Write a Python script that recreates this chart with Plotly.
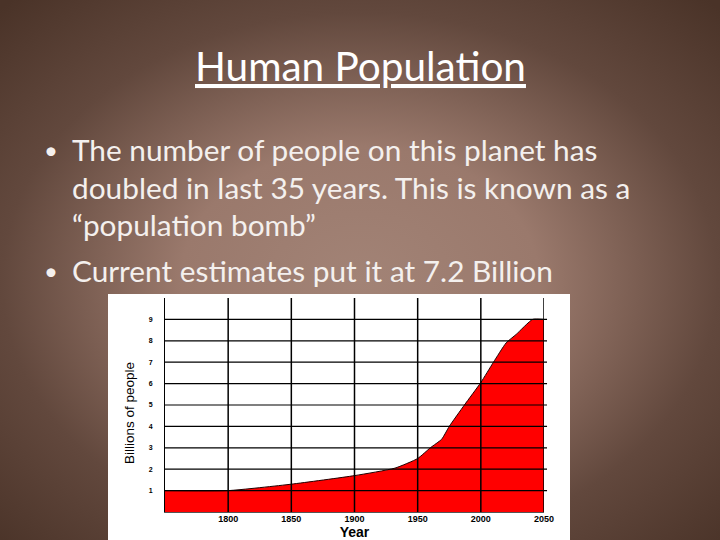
import base64
import plotly.graph_objects as go

# ---- data ----
years = [1750, 1800, 1850, 1900, 1932, 1950, 1960, 1969, 1975, 1987, 2000, 2010, 2020, 2028, 2041, 2050]
population_billions = [1.0, 1.0, 1.3, 1.7, 2.05, 2.5, 3.0, 3.4, 4.0, 5.0, 6.05, 7.0, 7.9, 8.3, 9.0, 9.0]
x_ticks = [1800, 1850, 1900, 1950, 2000, 2050]
y_ticks = [1, 2, 3, 4, 5, 6, 7, 8, 9]

slide_title = "Human Population"
bullet_lines = [
    ("•", "The number of people on this planet has"),
    ("", "doubled in last 35 years. This is known as a"),
    ("", "“population bomb”"),
    ("•", "Current estimates put it at 7.2 Billion"),
]
y_title = "Billions of people"
x_title = "Year"

W, H = 720, 540
L, R, T, B = 165, 544, 298, 512  # plot area in pixels


def px(x):
    return (x - L) / (R - L)


def py(y):
    return (B - y) / (B - T)


svg = f"""<svg xmlns='http://www.w3.org/2000/svg' width='{W}' height='{H}' viewBox='0 0 {W} {H}' preserveAspectRatio='none'>
<defs><radialGradient id='g' cx='50%' cy='52%' r='71%'>
<stop offset='0' stop-color='#a28376'/>
<stop offset='0.35' stop-color='#9a796c'/>
<stop offset='0.7' stop-color='#62483d'/>
<stop offset='1' stop-color='#4a3328'/>
</radialGradient></defs>
<rect x='0' y='0' width='{W}' height='{H}' fill='url(#g)'/></svg>"""
bg_uri = "data:image/svg+xml;base64," + base64.b64encode(svg.encode()).decode()

fig = go.Figure()
fig.add_trace(go.Scatter(
    x=years, y=population_billions, mode="lines",
    line=dict(color="#200000", width=1, shape="spline", smoothing=0.5),
    fill="tozeroy", fillcolor="#ff0000",
    hoverinfo="skip", showlegend=False,
))

shapes = [
    dict(type="rect", xref="paper", yref="paper", x0=px(108), x1=px(570), y0=py(540), y1=py(294),
         fillcolor="white", line=dict(width=0), layer="below"),
]
for xv in x_ticks:
    shapes.append(dict(type="line", xref="x", yref="paper", x0=xv, x1=xv, y0=0, y1=1,
                       line=dict(color="black", width=1.5), layer="above"))
for yv in y_ticks:
    shapes.append(dict(type="line", xref="paper", yref="y", x0=0, x1=1.008, y0=yv, y1=yv,
                       line=dict(color="black", width=1.2), layer="above"))

text_font = "Lato, Liberation Sans, sans-serif"
annotations = [
    dict(text=f"<u>{slide_title}</u>", x=px(360), y=py(66), xref="paper", yref="paper",
         showarrow=False, xanchor="center", yanchor="middle",
         font=dict(family=text_font, size=40.5, color="white")),
    dict(text=y_title, x=px(129), y=py(413), xref="paper", yref="paper", textangle=-90,
         showarrow=False, xanchor="center", yanchor="middle",
         font=dict(family="Liberation Sans, Arial, sans-serif", size=13.5, color="black")),
]
line_y = [150, 187, 224, 270]
for (bul, txt), yy in zip(bullet_lines, line_y):
    if bul:
        annotations.append(dict(text=bul, x=px(42), y=py(yy), xref="paper", yref="paper",
                                showarrow=False, xanchor="left", yanchor="middle",
                                font=dict(family=text_font, size=24, color="#f4f0ee")))
    annotations.append(dict(text=txt, x=px(70), y=py(yy), xref="paper", yref="paper",
                            showarrow=False, xanchor="left", yanchor="middle",
                            font=dict(family=text_font, size=29.8, color="#f4f0ee")))

fig.update_layout(
    width=W, height=H,
    margin=dict(l=L, r=W - R, t=T, b=H - B, pad=0, autoexpand=False),
    paper_bgcolor="#5a4034",
    plot_bgcolor="rgba(0,0,0,0)",
    images=[dict(source=bg_uri, xref="paper", yref="paper",
                 x=px(0), y=py(0), sizex=px(W) - px(0), sizey=py(0) - py(H),
                 xanchor="left", yanchor="top", sizing="stretch", layer="below")],
    shapes=shapes,
    annotations=annotations,
    showlegend=False,
)
fig.update_xaxes(
    range=[1750, 2050], tickvals=x_ticks, showgrid=False, zeroline=False, automargin=False,
    showline=True, linecolor="#555555", linewidth=1,
    ticks="", ticklabelstandoff=-2,
    tickfont=dict(family="Liberation Sans, Arial, sans-serif", size=9, color="black", weight="bold"),
    title=dict(text=x_title, standoff=5,
               font=dict(family="Liberation Sans, Arial, sans-serif", size=14, color="black", weight="bold")),
)
fig.update_yaxes(
    range=[0, 10], tickvals=y_ticks, showgrid=False, zeroline=False, automargin=False,
    showline=True, linecolor="black", linewidth=1,
    ticks="", ticklabelstandoff=10,
    tickfont=dict(family="Liberation Sans, Arial, sans-serif", size=7, color="black", weight="bold"),
)

fig.write_html("out.html", config={"displayModeBar": False},
               post_script="document.body.style.margin='0';document.body.style.overflow='hidden';")
